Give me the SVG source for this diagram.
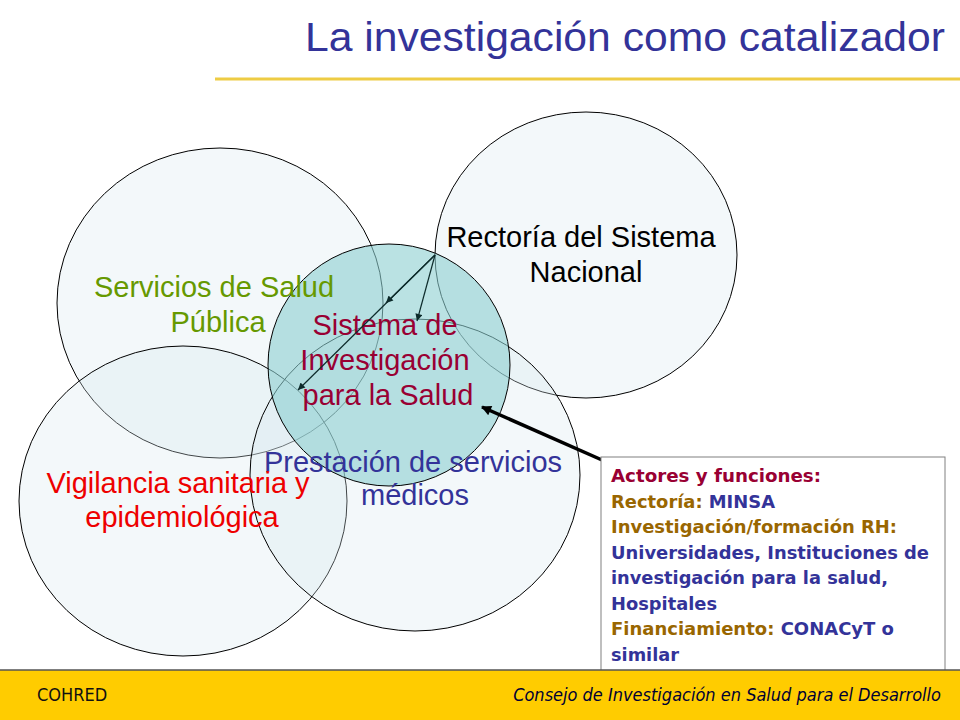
<svg xmlns="http://www.w3.org/2000/svg" width="960" height="720" viewBox="0 0 960 720">
  <style>
    .circ { fill: #D8E8EE; fill-opacity: 0.3; stroke: #000; stroke-width: 1; }
    .core { fill: #8CCFD1; fill-opacity: 0.6; stroke: #000; stroke-width: 1; }
    .lbl { font-family: "Liberation Sans", Arial, sans-serif; font-size: 29px; text-anchor: middle; }
    .box { font-family: "DejaVu Sans", Verdana, sans-serif; font-size: 18px; font-weight: bold; }
    .thin { stroke: #0d2b2b; stroke-width: 1.2; fill: none; }
    .thick { stroke: #000; stroke-width: 3.5; fill: none; }
    .foot { font-family: "DejaVu Sans Condensed", "DejaVu Sans", sans-serif; font-size: 18px; }
  </style>
  <defs>
    <marker id="ah" viewBox="0 0 10 10" refX="10" refY="5" markerWidth="9" markerHeight="7" markerUnits="userSpaceOnUse" orient="auto">
      <path d="M0,0 L10,5 L0,10 z" fill="#0d2b2b"/>
    </marker>
    <marker id="ahk" viewBox="0 0 10 10" refX="9" refY="5" markerWidth="14" markerHeight="10" markerUnits="userSpaceOnUse" orient="auto">
      <path d="M0,0 L10,5 L0,10 z" fill="#000"/>
    </marker>
  </defs>
  <rect width="960" height="720" fill="#fff"/>

  <g id="title">
    <text x="305" y="51" font-family="Liberation Sans, Arial, sans-serif" font-size="40" fill="#333399" textLength="640" lengthAdjust="spacingAndGlyphs">La investigación como catalizador</text>
    <line x1="215" y1="79" x2="960" y2="79" stroke="#EECC44" stroke-width="3"/>
  </g>

  <g id="servicios">
    <ellipse class="circ" cx="220" cy="303" rx="163" ry="155"/>
  </g>
  <g id="rectoria">
    <ellipse class="circ" cx="586" cy="255" rx="151" ry="143"/>
  </g>
  <g id="vigilancia">
    <ellipse class="circ" cx="183" cy="501" rx="164" ry="155"/>
  </g>
  <g id="prestacion">
    <ellipse class="circ" cx="415" cy="475" rx="165" ry="156"/>
  </g>
  <g id="sistema">
    <circle class="core" cx="389" cy="365" r="121"/>
  </g>

  <g id="labels">
    <text class="lbl" x="214" y="297" fill="#669900">Servicios de Salud</text>
    <text class="lbl" x="218" y="332" fill="#669900">Pública</text>
    <text class="lbl" x="581" y="247" fill="#000">Rectoría del Sistema</text>
    <text class="lbl" x="586" y="282" fill="#000">Nacional</text>
    <text class="lbl" x="385" y="335" fill="#990033">Sistema de</text>
    <text class="lbl" x="385" y="370" fill="#990033">Investigación</text>
    <text class="lbl" x="388" y="405" fill="#990033">para la Salud</text>
    <text class="lbl" x="413" y="472" fill="#333399">Prestación de servicios</text>
    <text class="lbl" x="415" y="505" fill="#333399">médicos</text>
    <text class="lbl" x="178" y="493" fill="#EE0000" textLength="263" lengthAdjust="spacing">Vigilancia sanitaria y</text>
    <text class="lbl" x="182" y="527" fill="#EE0000">epidemiológica</text>
  </g>

  <g id="connectors">
    <line class="thin" x1="435" y1="255" x2="386" y2="303" marker-end="url(#ah)"/>
    <line class="thin" x1="435" y1="255" x2="417" y2="321" marker-end="url(#ah)"/>
    <line class="thin" x1="435" y1="255" x2="298" y2="390" marker-end="url(#ah)"/>
    <line class="thick" x1="602" y1="460" x2="482" y2="407" marker-end="url(#ahk)"/>
  </g>

  <g id="actores">
    <rect x="601" y="457" width="344" height="216" fill="#fff" stroke="#808080" stroke-width="1"/>
    <text class="box" x="611" y="482" fill="#990033" textLength="210" lengthAdjust="spacingAndGlyphs">Actores y funciones:</text>
    <text class="box" x="611" y="507.5" textLength="164" lengthAdjust="spacingAndGlyphs"><tspan fill="#996600">Rectoría: </tspan><tspan fill="#333399">MINSA</tspan></text>
    <text class="box" x="611" y="533" fill="#996600" textLength="286" lengthAdjust="spacingAndGlyphs">Investigación/formación RH:</text>
    <text class="box" x="611" y="558.5" fill="#333399" textLength="318" lengthAdjust="spacingAndGlyphs">Universidades, Instituciones de</text>
    <text class="box" x="611" y="584" fill="#333399" textLength="277" lengthAdjust="spacingAndGlyphs">investigación para la salud,</text>
    <text class="box" x="611" y="609.5" fill="#333399" textLength="106" lengthAdjust="spacingAndGlyphs">Hospitales</text>
    <text class="box" x="611" y="635" textLength="283" lengthAdjust="spacingAndGlyphs"><tspan fill="#996600">Financiamiento: </tspan><tspan fill="#333399">CONACyT o</tspan></text>
    <text class="box" x="611" y="660.5" fill="#333399" textLength="68" lengthAdjust="spacingAndGlyphs">similar</text>
  </g>

  <g id="footer">
    <rect x="0" y="670" width="960" height="50" fill="#FFCC00"/>
    <line x1="0" y1="670" x2="960" y2="670" stroke="#555" stroke-width="1.5"/>
    <text class="foot" x="37" y="701" fill="#111">COHRED</text>
    <text class="foot" x="941" y="701" fill="#000033" font-style="italic" text-anchor="end">Consejo de Investigación en Salud para el Desarrollo</text>
  </g>
</svg>
